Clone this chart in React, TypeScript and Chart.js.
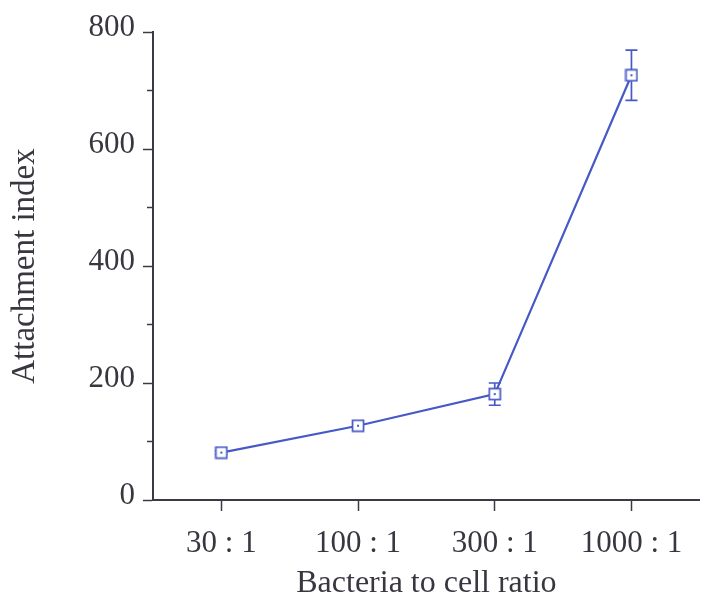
import React, { useEffect, useRef } from "react";
import { Chart, registerables } from "chart.js";

Chart.register(...registerables);

const categories = ["30 : 1", "100 : 1", "300 : 1", "1000 : 1"];
const attachmentIndex = [81, 127, 181, 726];
const errorValues = [3, 3, 19, 43];
const yTickMax = 800;
const yTickStep = 100;
const yLabelStep = 200;

const BLUE = "#4759c6";
const AXIS = "#3d3844";
const TEXT = "#3a3640";
const FONT = "'Liberation Serif', 'Times New Roman', serif";

function makeMarker(): HTMLCanvasElement {
  const c = document.createElement("canvas");
  c.width = 14;
  c.height = 14;
  const g = c.getContext("2d")!;
  g.fillStyle = "#ffffff";
  g.fillRect(1, 1, 12, 12);
  g.strokeStyle = BLUE;
  g.lineWidth = 1.7;
  g.strokeRect(1.5, 1.5, 11, 11);
  g.fillStyle = BLUE;
  g.fillRect(6, 6, 2, 2);
  return c;
}

const errorBarPlugin = {
  id: "errorBars",
  beforeDatasetsDraw(chart: any) {
    const ctx = chart.ctx;
    const xs = chart.scales.x;
    const ys = chart.scales.y;
    ctx.save();
    ctx.strokeStyle = BLUE;
    ctx.lineWidth = 1.7;
    attachmentIndex.forEach((v, i) => {
      const e = errorValues[i];
      const x = xs.getPixelForValue(i);
      const yt = ys.getPixelForValue(v + e);
      const yb = ys.getPixelForValue(v - e);
      ctx.beginPath();
      ctx.moveTo(x, yt);
      ctx.lineTo(x, yb);
      ctx.moveTo(x - 6, yt);
      ctx.lineTo(x + 6, yt);
      ctx.moveTo(x - 6, yb);
      ctx.lineTo(x + 6, yb);
      ctx.stroke();
    });
    ctx.restore();
  },
};

const minorTickPlugin = {
  id: "minorTicks",
  afterDraw(chart: any) {
    const ctx = chart.ctx;
    const ys = chart.scales.y;
    const left = chart.chartArea.left;
    ctx.save();
    ctx.strokeStyle = AXIS;
    ctx.lineWidth = 1.5;
    for (let v = 0; v <= yTickMax; v += yTickStep) {
      if (v % yLabelStep === 0) continue;
      const y = ys.getPixelForValue(v);
      ctx.beginPath();
      ctx.moveTo(left - 6, y);
      ctx.lineTo(left, y);
      ctx.stroke();
    }
    ctx.restore();
  },
};

export default function App() {
  const ref = useRef<HTMLCanvasElement>(null);

  useEffect(() => {
    if (!ref.current) return;
    const marker = makeMarker();
    const chart = new Chart(ref.current, {
      type: "line",
      data: {
        labels: categories,
        datasets: [
          {
            data: attachmentIndex,
            borderColor: BLUE,
            borderWidth: 2.2,
            pointStyle: marker as any,
            pointRadius: 7,
            tension: 0,
            fill: false,
          },
        ],
      },
      plugins: [errorBarPlugin, minorTickPlugin],
      options: {
        responsive: false,
        animation: false,
        events: [],
        layout: { padding: { top: 32, right: 0, left: 0, bottom: 0 } },
        plugins: { legend: { display: false }, tooltip: { enabled: false } },
        scales: {
          x: {
            type: "category",
            offset: true,
            afterFit: (s: any) => {
              s.height = 114;
              s.paddingLeft = 0;
              s.paddingRight = 0;
            },
            grid: {
              offset: false,
              drawOnChartArea: false,
              drawTicks: true,
              tickLength: 11,
              tickColor: AXIS,
              tickWidth: 1.5,
            },
            border: { display: true, color: AXIS, width: 2 },
            ticks: {
              color: TEXT,
              padding: 14,
              font: { family: FONT, size: 31 },
              maxRotation: 0,
              autoSkip: false,
            },
            title: {
              display: true,
              text: "Bacteria to cell ratio",
              color: TEXT,
              font: { family: FONT, size: 32 },
              padding: { top: 0, bottom: 11 },
            },
          },
          y: {
            min: 0,
            max: yTickMax,
            afterFit: (s: any) => {
              s.width = 153;
              s.paddingTop = 0;
              s.paddingBottom = 0;
            },
            grid: {
              drawOnChartArea: false,
              drawTicks: true,
              tickLength: 10,
              tickWidth: 1.5,
              tickColor: (c: any) =>
                c.tick && c.tick.value % yLabelStep === 0 ? AXIS : "rgba(0,0,0,0)",
            },
            border: { display: true, color: AXIS, width: 2 },
            ticks: {
              stepSize: yTickStep,
              autoSkip: false,
              color: TEXT,
              padding: 8,
              labelOffset: -4,
              font: { family: FONT, size: 31 },
              callback: (v: any) => (Number(v) % yLabelStep === 0 ? String(v) : ""),
            },
            title: {
              display: true,
              text: "Attachment index",
              color: TEXT,
              font: { family: FONT, size: 33 },
              padding: { top: 6, bottom: 0 },
            },
          },
        },
      },
    });
    return () => chart.destroy();
  }, []);

  return (
    <div
      style={{
        position: "absolute",
        left: 0,
        top: 0,
        width: 701,
        height: 614,
        overflow: "hidden",
        background: "#fff",
      }}
    >
      <canvas ref={ref} width={709} height={614} style={{ display: "block" }} />
    </div>
  );
}
